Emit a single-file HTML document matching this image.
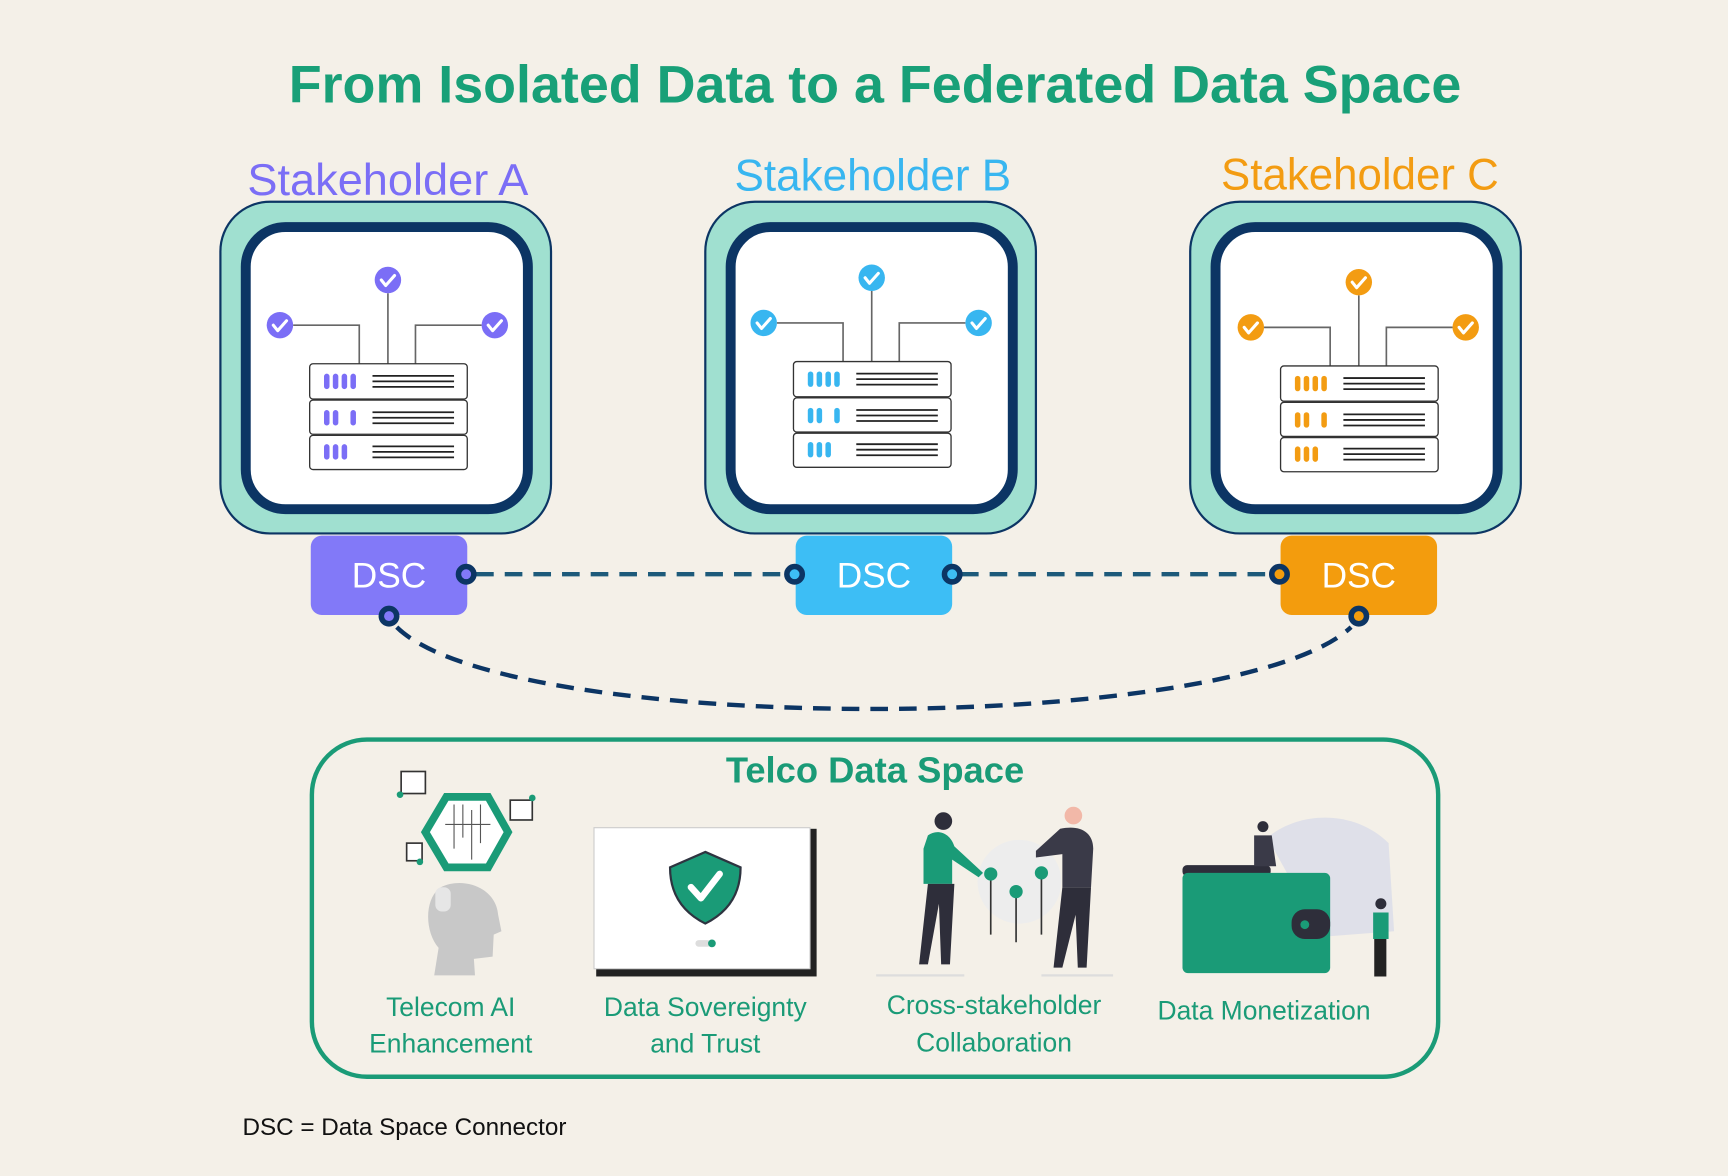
<!DOCTYPE html>
<html><head><meta charset="utf-8"><style>html,body{margin:0;padding:0;background:#F4F0E8;}svg{display:block}</style></head>
<body>
<svg width="1728" height="1176" viewBox="0 0 1568 1067" xmlns="http://www.w3.org/2000/svg" font-family="'Liberation Sans', sans-serif">
<rect width="1568" height="1067" fill="#F4F0E8"/>
<text x="794" y="93" text-anchor="middle" font-size="48" font-weight="bold" fill="#18A078" textLength="1064" lengthAdjust="spacingAndGlyphs">From Isolated Data to a Federated Data Space</text>

<defs>
<g id="srv">
  <rect x="-100" y="-100" width="300" height="301" rx="45" fill="#A0E0D0" stroke="#0C3564" stroke-width="2"/>
  <rect x="-77" y="-77" width="256" height="256" rx="36" fill="#fff" stroke="#0C3564" stroke-width="9"/>
</g>
</defs>

<text x="352" y="177" text-anchor="middle" font-size="40" fill="#7B6EF6" textLength="255" lengthAdjust="spacingAndGlyphs">Stakeholder A</text>
<g transform="translate(300,283)"><use href="#srv"/></g>
<text x="792" y="173" text-anchor="middle" font-size="40" fill="#38B6F0" textLength="251" lengthAdjust="spacingAndGlyphs">Stakeholder B</text>
<g transform="translate(740,283)"><use href="#srv"/></g>
<text x="1234" y="172" text-anchor="middle" font-size="40" fill="#F39C12" textLength="252" lengthAdjust="spacingAndGlyphs">Stakeholder C</text>
<g transform="translate(1180,283)"><use href="#srv"/></g>

<g id="rackA">
<g fill="none" stroke="#666" stroke-width="1.5">
<path d="M266,295 H326 V330 M352,266 V330 M437,295 H377 V330"/>
</g>
<g stroke="#333" stroke-width="1.2" fill="#fff">
<rect x="281" y="330" width="143" height="32" rx="3"/>
<rect x="281" y="363" width="143" height="31" rx="3"/>
<rect x="281" y="395" width="143" height="31" rx="3"/>
</g>
<g stroke="#222" stroke-width="1.6">
<path d="M338,341 H412 M338,346 H412 M338,351 H412 M338,374 H412 M338,379 H412 M338,384 H412 M338,405 H412 M338,410 H412 M338,415 H412"/>
</g>
</g>
<g fill="#7B6EF6">
<rect x="294" y="339" width="5" height="14" rx="2.5"/><rect x="302" y="339" width="5" height="14" rx="2.5"/><rect x="310" y="339" width="5" height="14" rx="2.5"/><rect x="318" y="339" width="5" height="14" rx="2.5"/>
<rect x="294" y="372" width="5" height="14" rx="2.5"/><rect x="302" y="372" width="5" height="14" rx="2.5"/><rect x="318" y="372" width="5" height="14" rx="2.5"/>
<rect x="294" y="403" width="5" height="14" rx="2.5"/><rect x="302" y="403" width="5" height="14" rx="2.5"/><rect x="310" y="403" width="5" height="14" rx="2.5"/>
<circle cx="352" cy="254" r="12"/><circle cx="254" cy="295" r="12"/><circle cx="449" cy="295" r="12"/>
</g>
<g fill="none" stroke="#fff" stroke-width="2.8" stroke-linecap="round" stroke-linejoin="round">
<path d="M346,254 l4,5 l8,-9 M248,295 l4,5 l8,-9 M443,295 l4,5 l8,-9"/></g>

<g transform="translate(439,-2)">
<use href="#rackA"/>
<g fill="#38B6F0">
<rect x="294" y="339" width="5" height="14" rx="2.5"/><rect x="302" y="339" width="5" height="14" rx="2.5"/><rect x="310" y="339" width="5" height="14" rx="2.5"/><rect x="318" y="339" width="5" height="14" rx="2.5"/>
<rect x="294" y="372" width="5" height="14" rx="2.5"/><rect x="302" y="372" width="5" height="14" rx="2.5"/><rect x="318" y="372" width="5" height="14" rx="2.5"/>
<rect x="294" y="403" width="5" height="14" rx="2.5"/><rect x="302" y="403" width="5" height="14" rx="2.5"/><rect x="310" y="403" width="5" height="14" rx="2.5"/>
<circle cx="352" cy="254" r="12"/><circle cx="254" cy="295" r="12"/><circle cx="449" cy="295" r="12"/>
</g>
<g fill="none" stroke="#fff" stroke-width="2.8" stroke-linecap="round" stroke-linejoin="round">
<path d="M346,254 l4,5 l8,-9 M248,295 l4,5 l8,-9 M443,295 l4,5 l8,-9"/></g>
</g>
<g transform="translate(881,2)">
<use href="#rackA"/>
<g fill="#F39C12">
<rect x="294" y="339" width="5" height="14" rx="2.5"/><rect x="302" y="339" width="5" height="14" rx="2.5"/><rect x="310" y="339" width="5" height="14" rx="2.5"/><rect x="318" y="339" width="5" height="14" rx="2.5"/>
<rect x="294" y="372" width="5" height="14" rx="2.5"/><rect x="302" y="372" width="5" height="14" rx="2.5"/><rect x="318" y="372" width="5" height="14" rx="2.5"/>
<rect x="294" y="403" width="5" height="14" rx="2.5"/><rect x="302" y="403" width="5" height="14" rx="2.5"/><rect x="310" y="403" width="5" height="14" rx="2.5"/>
<circle cx="352" cy="254" r="12"/><circle cx="254" cy="295" r="12"/><circle cx="449" cy="295" r="12"/>
</g>
<g fill="none" stroke="#fff" stroke-width="2.8" stroke-linecap="round" stroke-linejoin="round">
<path d="M346,254 l4,5 l8,-9 M248,295 l4,5 l8,-9 M443,295 l4,5 l8,-9"/></g>
</g>

<rect x="282" y="486" width="142" height="72" rx="10" fill="#8279F8"/>
<rect x="722" y="486" width="142" height="72" rx="10" fill="#3DBEF5"/>
<rect x="1162" y="486" width="142" height="72" rx="10" fill="#F39C0D"/>
<g font-size="32" fill="#fff" text-anchor="middle">
<text x="353" y="533">DSC</text><text x="793" y="533">DSC</text><text x="1233" y="533">DSC</text></g>

<g fill="none" stroke="#1D5A7A" stroke-width="4" stroke-dasharray="16 10">
<path d="M432,521 H713 M872,521 H1153"/></g>
<path d="M360,569 C 460,668 1120,668 1226,569" fill="none" stroke="#0C3564" stroke-width="4" stroke-dasharray="16 10"/>
<g stroke="#0C3564" stroke-width="5">
<circle cx="423" cy="521" r="7" fill="#8279F8"/>
<circle cx="721" cy="521" r="7" fill="#3DBEF5"/>
<circle cx="864" cy="521" r="7" fill="#3DBEF5"/>
<circle cx="1161" cy="521" r="7" fill="#F39C0D"/>
<circle cx="353" cy="559" r="7" fill="#8279F8"/>
<circle cx="1233" cy="559" r="7" fill="#F39C0D"/>
</g>

<rect x="283" y="671" width="1022" height="306" rx="50" fill="none" stroke="#1A9B77" stroke-width="4"/>
<text x="794" y="710" text-anchor="middle" font-size="33" font-weight="bold" fill="#1A9B77">Telco Data Space</text>

<path d="M400,805 C420,795 450,805 452,830 L455,845 L448,848 L447,868 L430,870 L431,885 L394,885 L398,860 C385,845 385,815 400,805Z" fill="#C8C8C8"/>
<rect x="395" y="805" width="14" height="22" rx="6" fill="#E6E6E6"/>
<polygon points="386,755 405,723 443,723 461,755 443,787 405,787" fill="#fff" stroke="#1A9B77" stroke-width="7"/>
<g stroke="#555" stroke-width="1" fill="none"><path d="M412,730 V770 M420,730 V760 M428,735 V780 M436,730 V765 M404,748 H445"/></g>
<rect x="364" y="700" width="22" height="20" fill="#fff" stroke="#333" stroke-width="1.5"/>
<rect x="463" y="726" width="20" height="18" fill="#fff" stroke="#333" stroke-width="1.5"/>
<rect x="369" y="765" width="14" height="16" fill="#fff" stroke="#333" stroke-width="1.5"/>
<g fill="#1A9B77"><circle cx="363" cy="721" r="3"/><circle cx="483" cy="724" r="3"/><circle cx="381" cy="782" r="3"/></g>

<rect x="541" y="752" width="200" height="134" fill="#222"/>
<rect x="539" y="751" width="196" height="128" fill="#fff" stroke="#ccc"/>
<path d="M640,773 L672,787 C672,812 660,828 640,838 C620,828 608,812 608,787Z" fill="#1A9B77" stroke="#2E3440" stroke-width="2"/>
<path d="M627,805 l9,10 l17,-22" fill="none" stroke="#fff" stroke-width="6" stroke-linecap="round" stroke-linejoin="round"/>
<rect x="631" y="853" width="14" height="6" rx="3" fill="#ddd"/><circle cx="646" cy="856" r="3.5" fill="#1A9B77"/>

<circle cx="925" cy="800" r="38" fill="#EDEDED"/>
<g stroke="#333" stroke-width="1.5"><path d="M899,795 V848 M922,810 V855 M945,793 V848"/></g>
<g fill="#1A9B77"><circle cx="899" cy="793" r="6"/><circle cx="922" cy="809" r="6"/><circle cx="945" cy="792" r="6"/></g>
<circle cx="856" cy="745" r="8" fill="#2E2E3A"/>
<path d="M842,758 C850,752 862,755 866,768 L892,792 L888,796 L864,780 L864,802 L838,802 L838,770Z" fill="#1A9B77"/>
<path d="M842,802 H866 L862,875 L854,875 L852,820 L842,875 L834,875Z" fill="#2E2E3A"/>
<circle cx="974" cy="740" r="8" fill="#F2B8A8"/>
<path d="M962,752 C980,748 992,755 992,770 L990,805 L964,805 L964,775 L940,778 L940,772Z" fill="#3A3A48"/>
<path d="M964,805 H990 L986,878 L978,878 L976,830 L964,878 L956,878Z" fill="#2E2E3A"/>
<path d="M795,885 H875 M945,885 H1010" stroke="#ddd" stroke-width="2"/>

<path d="M1150,760 C1180,735 1230,735 1260,765 L1265,845 L1200,850Z" fill="#DADCE8" opacity="0.8"/>
<rect x="1073" y="785" width="80" height="10" rx="4" fill="#2E2E3A"/>
<rect x="1073" y="792" width="134" height="91" rx="5" fill="#1A9B77"/>
<rect x="1172" y="825" width="35" height="27" rx="12" fill="#2E2E3A"/>
<circle cx="1184" cy="839" r="4" fill="#1A9B77"/>
<circle cx="1146" cy="750" r="5" fill="#2E2E3A"/>
<path d="M1138,758 H1154 L1158,786 H1138Z" fill="#3A3A48"/>
<circle cx="1253" cy="820" r="5" fill="#2E2E3A"/>
<path d="M1246,828 H1260 V852 H1246Z" fill="#1A9B77"/>
<path d="M1247,852 H1258 V886 H1247Z" fill="#222"/>

<g font-size="24" fill="#1A9B77" text-anchor="middle">
<text x="409" y="922">Telecom AI</text><text x="409" y="955">Enhancement</text>
<text x="640" y="922">Data Sovereignty</text><text x="640" y="955">and Trust</text>
<text x="902" y="920">Cross-stakeholder</text><text x="902" y="954">Collaboration</text>
<text x="1147" y="925">Data Monetization</text>
</g>
<text x="220" y="1030" font-size="22" fill="#111">DSC = Data Space Connector</text>
</svg>
</body></html>
